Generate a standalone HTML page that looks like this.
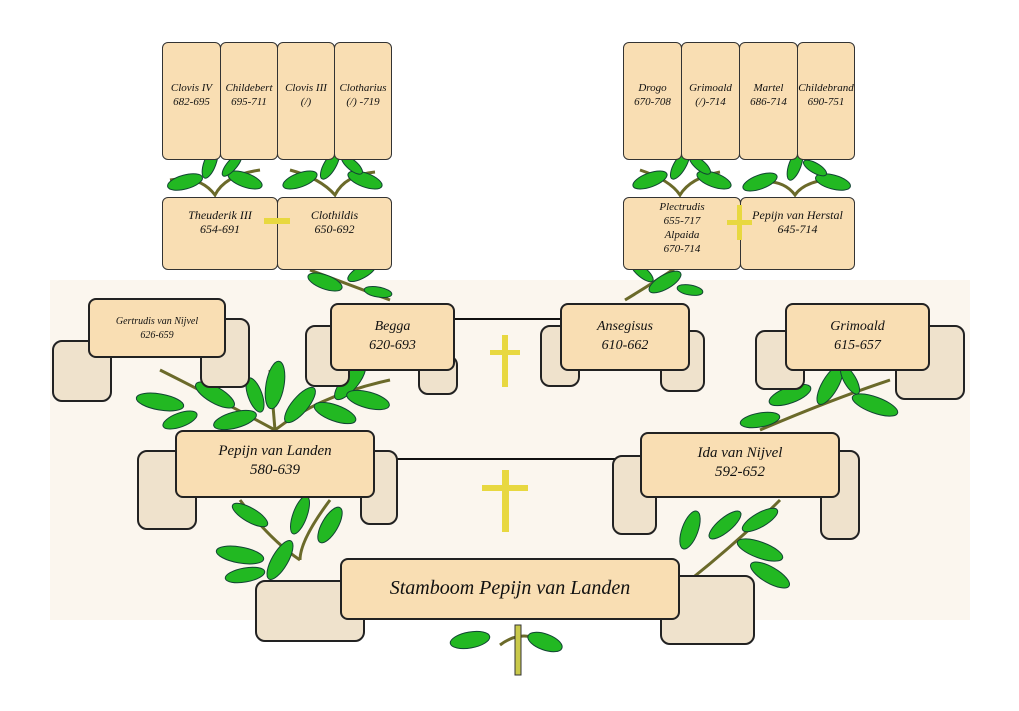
<!DOCTYPE html>
<html><head><meta charset="utf-8"><style>
body{margin:0;width:1019px;height:711px;background:#fff;position:relative;overflow:hidden;font-family:"Liberation Serif",serif;font-style:italic;color:#111}
.c{position:absolute;background:#f9deb3;border:1.5px solid #333;border-radius:6px;box-sizing:border-box;text-align:center;font-size:11px;line-height:14px}
.s{position:absolute;background:#f9deb3;border:2px solid #222;border-radius:8px;box-sizing:border-box;text-align:center;font-size:14px;line-height:19px}
.r{position:absolute;background:#efe2cc;border:2px solid #222;border-radius:10px;box-sizing:border-box}
</style></head><body>
<div style="position:absolute;left:50px;top:280px;width:920px;height:340px;background:#fbf6ee"></div>
<svg width="1019" height="711" style="position:absolute;left:0;top:0">
<g fill="none" stroke="#6b6a2a" stroke-width="3">
<path d="M170 180 Q200 175 215 195 Q225 175 260 170"/><path d="M290 170 Q320 178 335 195 Q345 175 375 172"/>
<path d="M640 170 Q670 180 680 195 Q690 178 720 172"/><path d="M745 185 Q780 175 795 195 Q805 180 840 178"/>
<path d="M310 270 Q350 285 390 300"/><path d="M680 265 Q650 285 625 300"/>
<path d="M160 370 Q220 400 275 430 Q320 395 390 380"/><path d="M275 430 L270 370"/>
<path d="M890 380 Q830 400 760 430"/>
<path d="M240 500 Q270 540 300 560"/><path d="M330 500 Q300 540 300 560"/>
<path d="M780 500 Q740 540 690 580"/>
<path d="M500 645 Q520 630 540 640"/>
</g>
<g fill="#22b822" stroke="#143" stroke-width="1">
<ellipse cx="185" cy="182" rx="18" ry="7" transform="rotate(-15 185 182)"/><ellipse cx="210" cy="163" rx="16" ry="6" transform="rotate(-70 210 163)"/><ellipse cx="245" cy="180" rx="18" ry="7" transform="rotate(20 245 180)"/><ellipse cx="232" cy="165" rx="14" ry="5" transform="rotate(-50 232 165)"/>
<ellipse cx="300" cy="180" rx="18" ry="7" transform="rotate(-20 300 180)"/><ellipse cx="330" cy="165" rx="16" ry="6" transform="rotate(-60 330 165)"/><ellipse cx="365" cy="180" rx="18" ry="7" transform="rotate(20 365 180)"/><ellipse cx="352" cy="165" rx="13" ry="5" transform="rotate(40 352 165)"/>
<ellipse cx="325" cy="282" rx="18" ry="7" transform="rotate(20 325 282)"/><ellipse cx="362" cy="272" rx="16" ry="6" transform="rotate(-30 362 272)"/><ellipse cx="378" cy="292" rx="14" ry="5" transform="rotate(10 378 292)"/>
<ellipse cx="650" cy="180" rx="18" ry="7" transform="rotate(-20 650 180)"/><ellipse cx="680" cy="165" rx="16" ry="6" transform="rotate(-60 680 165)"/><ellipse cx="714" cy="180" rx="18" ry="7" transform="rotate(20 714 180)"/><ellipse cx="700" cy="165" rx="13" ry="5" transform="rotate(40 700 165)"/>
<ellipse cx="760" cy="182" rx="18" ry="7" transform="rotate(-20 760 182)"/><ellipse cx="795" cy="165" rx="16" ry="6" transform="rotate(-70 795 165)"/><ellipse cx="833" cy="182" rx="18" ry="7" transform="rotate(15 833 182)"/><ellipse cx="815" cy="168" rx="13" ry="5" transform="rotate(30 815 168)"/>
<ellipse cx="665" cy="282" rx="18" ry="7" transform="rotate(-30 665 282)"/><ellipse cx="642" cy="272" rx="14" ry="5" transform="rotate(40 642 272)"/><ellipse cx="690" cy="290" rx="13" ry="5" transform="rotate(10 690 290)"/>
<ellipse cx="160" cy="402" rx="24" ry="8" transform="rotate(10 160 402)"/><ellipse cx="215" cy="395" rx="22" ry="8" transform="rotate(30 215 395)"/><ellipse cx="235" cy="420" rx="22" ry="8" transform="rotate(-15 235 420)"/><ellipse cx="180" cy="420" rx="18" ry="7" transform="rotate(-20 180 420)"/>
<ellipse cx="275" cy="385" rx="24" ry="9" transform="rotate(-80 275 385)"/><ellipse cx="300" cy="405" rx="22" ry="8" transform="rotate(-50 300 405)"/><ellipse cx="255" cy="395" rx="18" ry="7" transform="rotate(-110 255 395)"/>
<ellipse cx="350" cy="382" rx="22" ry="8" transform="rotate(-50 350 382)"/><ellipse cx="335" cy="413" rx="22" ry="8" transform="rotate(20 335 413)"/><ellipse cx="368" cy="400" rx="22" ry="8" transform="rotate(15 368 400)"/>
<ellipse cx="790" cy="395" rx="22" ry="8" transform="rotate(-20 790 395)"/><ellipse cx="830" cy="385" rx="22" ry="8" transform="rotate(-60 830 385)"/><ellipse cx="875" cy="405" rx="24" ry="8" transform="rotate(20 875 405)"/><ellipse cx="760" cy="420" rx="20" ry="7" transform="rotate(-10 760 420)"/><ellipse cx="850" cy="380" rx="16" ry="6" transform="rotate(60 850 380)"/>
<ellipse cx="250" cy="515" rx="20" ry="7" transform="rotate(30 250 515)"/><ellipse cx="300" cy="515" rx="20" ry="7" transform="rotate(-70 300 515)"/><ellipse cx="330" cy="525" rx="20" ry="8" transform="rotate(-60 330 525)"/>
<ellipse cx="240" cy="555" rx="24" ry="8" transform="rotate(10 240 555)"/><ellipse cx="280" cy="560" rx="22" ry="8" transform="rotate(-60 280 560)"/><ellipse cx="245" cy="575" rx="20" ry="7" transform="rotate(-10 245 575)"/>
<ellipse cx="690" cy="530" rx="20" ry="8" transform="rotate(-70 690 530)"/><ellipse cx="725" cy="525" rx="20" ry="7" transform="rotate(-40 725 525)"/><ellipse cx="760" cy="520" rx="20" ry="7" transform="rotate(-30 760 520)"/>
<ellipse cx="760" cy="550" rx="24" ry="8" transform="rotate(20 760 550)"/><ellipse cx="770" cy="575" rx="22" ry="8" transform="rotate(30 770 575)"/>
<ellipse cx="470" cy="640" rx="20" ry="8" transform="rotate(-10 470 640)"/><ellipse cx="545" cy="642" rx="18" ry="8" transform="rotate(20 545 642)"/>
</g>
<rect x="515" y="625" width="6" height="50" fill="#c9c94a" stroke="#333"/>
<line x1="455" y1="319" x2="560" y2="319" stroke="#111" stroke-width="2"/>
<line x1="375" y1="459" x2="640" y2="459" stroke="#111" stroke-width="2"/>
<rect x="502" y="335" width="6" height="52" fill="#e8d840"/><rect x="490" y="350" width="30" height="5" fill="#e8d840"/>
<rect x="502" y="470" width="7" height="62" fill="#e8d840"/><rect x="482" y="485" width="46" height="6" fill="#e8d840"/>
</svg>
<div class="c" style="left:162px;top:42px;width:59px;height:118px;padding-top:38px">Clovis IV<br>682-695</div>
<div class="c" style="left:220px;top:42px;width:58px;height:118px;padding-top:38px">Childebert<br>695-711</div>
<div class="c" style="left:277px;top:42px;width:58px;height:118px;padding-top:38px">Clovis III<br>(/)</div>
<div class="c" style="left:334px;top:42px;width:58px;height:118px;padding-top:38px">Clotharius<br>(/) -719</div>
<div class="c" style="left:162px;top:197px;width:116px;height:73px;padding-top:10px;font-size:12px">Theuderik III<br>654-691</div>
<div class="c" style="left:277px;top:197px;width:115px;height:73px;padding-top:10px;font-size:12px">Clothildis<br>650-692</div>
<div style="position:absolute;left:264px;top:218px;width:26px;height:6px;background:#e8d840"></div>
<div class="c" style="left:623px;top:42px;width:59px;height:118px;padding-top:38px">Drogo<br>670-708</div>
<div class="c" style="left:681px;top:42px;width:59px;height:118px;padding-top:38px">Grimoald<br>(/)-714</div>
<div class="c" style="left:739px;top:42px;width:59px;height:118px;padding-top:38px">Martel<br>686-714</div>
<div class="c" style="left:797px;top:42px;width:58px;height:118px;padding-top:38px">Childebrand<br>690-751</div>
<div class="c" style="left:623px;top:197px;width:118px;height:73px;padding-top:2px;font-size:11px;line-height:14px">Plectrudis<br>655-717<br>Alpaida<br>670-714</div>
<div class="c" style="left:740px;top:197px;width:115px;height:73px;padding-top:10px;font-size:12px">Pepijn van Herstal<br>645-714</div>
<div style="position:absolute;left:737px;top:205px;width:5px;height:35px;background:#e8d840"></div><div style="position:absolute;left:727px;top:220px;width:25px;height:5px;background:#e8d840"></div>
<div class="r" style="left:52px;top:340px;width:60px;height:62px"></div>
<div class="r" style="left:200px;top:318px;width:50px;height:70px"></div>
<div class="s" style="left:88px;top:298px;width:138px;height:60px;padding-top:15px;font-size:10px;line-height:14px">Gertrudis van Nijvel<br>626-659</div>
<div class="r" style="left:305px;top:325px;width:45px;height:62px"></div>
<div class="r" style="left:418px;top:355px;width:40px;height:40px"></div>
<div class="s" style="left:330px;top:303px;width:125px;height:68px;padding-top:12px">Begga<br>620-693</div>
<div class="r" style="left:540px;top:325px;width:40px;height:62px"></div>
<div class="r" style="left:660px;top:330px;width:45px;height:62px"></div>
<div class="s" style="left:560px;top:303px;width:130px;height:68px;padding-top:12px">Ansegisus<br>610-662</div>
<div class="r" style="left:755px;top:330px;width:50px;height:60px"></div>
<div class="r" style="left:895px;top:325px;width:70px;height:75px"></div>
<div class="s" style="left:785px;top:303px;width:145px;height:68px;padding-top:12px">Grimoald<br>615-657</div>
<div class="r" style="left:137px;top:450px;width:60px;height:80px"></div>
<div class="r" style="left:360px;top:450px;width:38px;height:75px"></div>
<div class="s" style="left:175px;top:430px;width:200px;height:68px;padding-top:10px;font-size:15px">Pepijn van Landen<br>580-639</div>
<div class="r" style="left:612px;top:455px;width:45px;height:80px"></div>
<div class="r" style="left:820px;top:450px;width:40px;height:90px"></div>
<div class="s" style="left:640px;top:432px;width:200px;height:66px;padding-top:10px;font-size:15px">Ida van Nijvel<br>592-652</div>
<div class="r" style="left:255px;top:580px;width:110px;height:62px"></div>
<div class="r" style="left:660px;top:575px;width:95px;height:70px"></div>
<div class="s" style="left:340px;top:558px;width:340px;height:62px;padding-top:16px;font-size:20px;line-height:24px">Stamboom Pepijn van Landen</div>
</body></html>
